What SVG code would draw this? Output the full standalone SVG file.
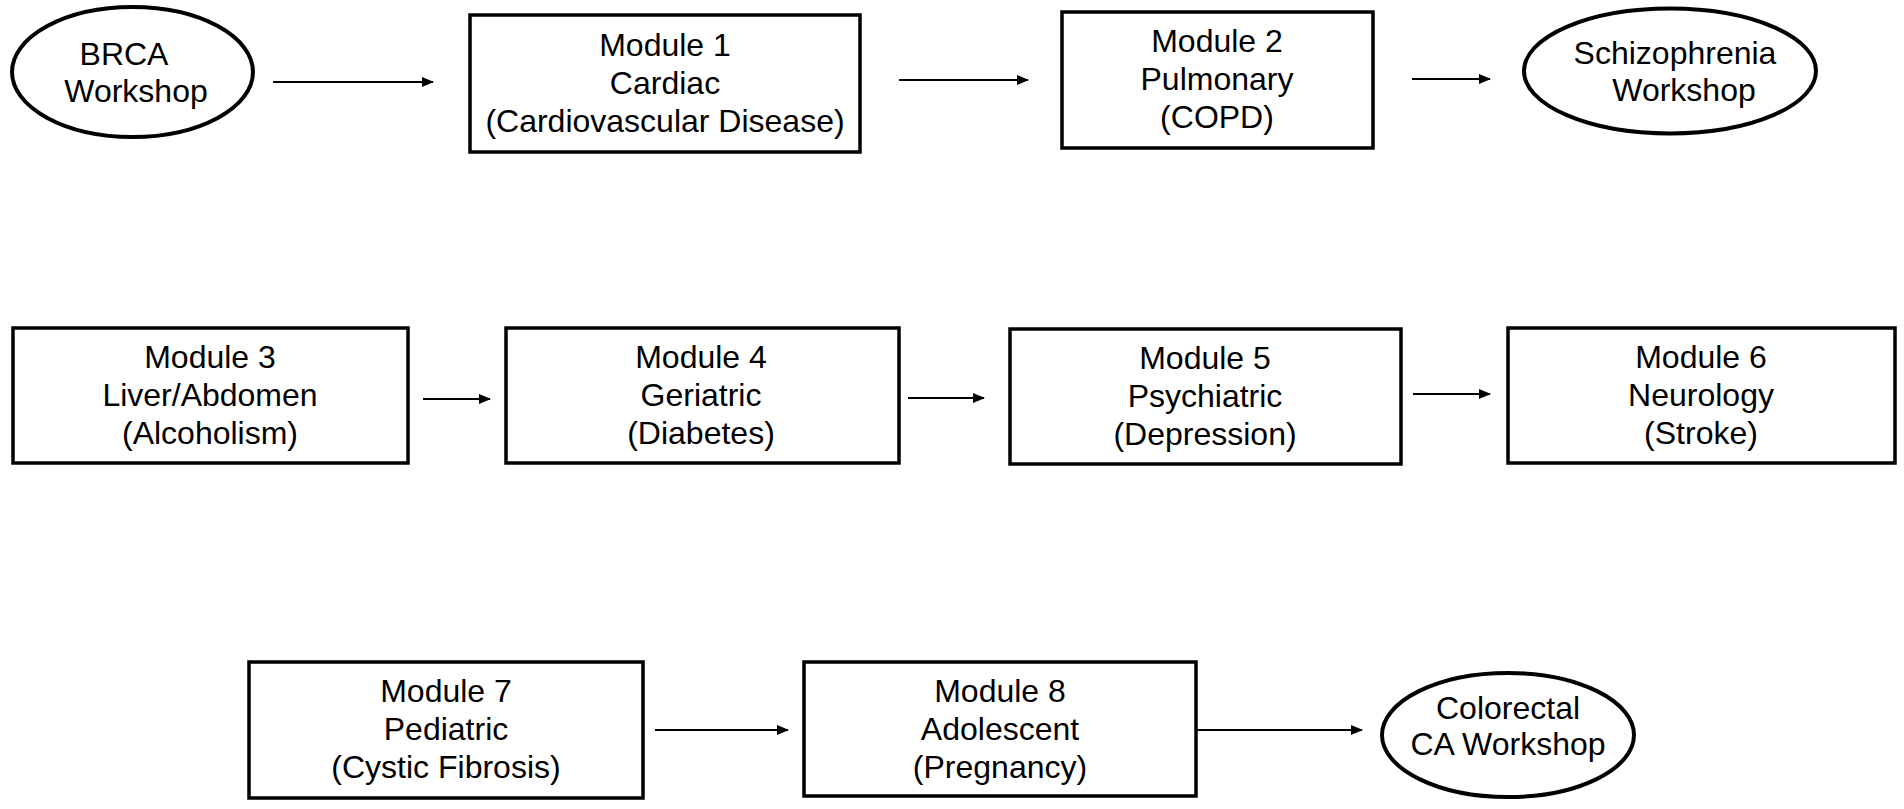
<svg xmlns="http://www.w3.org/2000/svg" width="1904" height="809" viewBox="0 0 1904 809">
<defs>
<marker id="ah" markerWidth="12" markerHeight="12" refX="11" refY="6" orient="auto" markerUnits="userSpaceOnUse">
<path d="M0,1 L12,6 L0,11 z" fill="#000"/>
</marker>
<style>
.box{fill:#fff;stroke:#000;stroke-width:3.5}
.ell{fill:#fff;stroke:#000;stroke-width:4}
.t{font-family:"Liberation Sans",Arial,sans-serif;font-size:32px;fill:#000;text-anchor:middle}
.c{stroke:#000;stroke-width:2.2;fill:none;marker-end:url(#ah)}
</style>
</defs>
<rect width="1904" height="809" fill="#fff"/>
<g id="connectors">
<line class="c" x1="273" y1="82" x2="433" y2="82"/>
<line class="c" x1="899" y1="80" x2="1028" y2="80"/>
<line class="c" x1="1412" y1="79" x2="1490" y2="79"/>
<line class="c" x1="423" y1="399" x2="490" y2="399"/>
<line class="c" x1="908" y1="398" x2="984" y2="398"/>
<line class="c" x1="1413" y1="394" x2="1490" y2="394"/>
<line class="c" x1="655" y1="730" x2="788" y2="730"/>
<line class="c" x1="1196" y1="730" x2="1362" y2="730"/>
</g>
<g id="brca">
<ellipse class="ell" cx="132.5" cy="72" rx="120.5" ry="65"/>
<text class="t" x="124" y="65">BRCA</text>
<text class="t" x="136" y="102">Workshop</text>
</g>
<g id="module1">
<rect class="box" x="470" y="15" width="390" height="137"/>
<text class="t" x="665" y="56">Module 1</text>
<text class="t" x="665" y="94">Cardiac</text>
<text class="t" x="665" y="132">(Cardiovascular Disease)</text>
</g>
<g id="module2">
<rect class="box" x="1062" y="12" width="311" height="136"/>
<text class="t" x="1217" y="52">Module 2</text>
<text class="t" x="1217" y="90">Pulmonary</text>
<text class="t" x="1217" y="128">(COPD)</text>
</g>
<g id="schizophrenia">
<ellipse class="ell" cx="1670" cy="71" rx="146" ry="62.5"/>
<text class="t" x="1675" y="64">Schizophrenia</text>
<text class="t" x="1684" y="101">Workshop</text>
</g>
<g id="module3">
<rect class="box" x="13" y="328" width="395" height="135"/>
<text class="t" x="210" y="368">Module 3</text>
<text class="t" x="210" y="406">Liver/Abdomen</text>
<text class="t" x="210" y="444">(Alcoholism)</text>
</g>
<g id="module4">
<rect class="box" x="506" y="328" width="393" height="135"/>
<text class="t" x="701" y="368">Module 4</text>
<text class="t" x="701" y="406">Geriatric</text>
<text class="t" x="701" y="444">(Diabetes)</text>
</g>
<g id="module5">
<rect class="box" x="1010" y="329" width="391" height="135"/>
<text class="t" x="1205" y="369">Module 5</text>
<text class="t" x="1205" y="407">Psychiatric</text>
<text class="t" x="1205" y="445">(Depression)</text>
</g>
<g id="module6">
<rect class="box" x="1508" y="328" width="387" height="135"/>
<text class="t" x="1701" y="368">Module 6</text>
<text class="t" x="1701" y="406">Neurology</text>
<text class="t" x="1701" y="444">(Stroke)</text>
</g>
<g id="module7">
<rect class="box" x="249" y="662" width="394" height="136"/>
<text class="t" x="446" y="702">Module 7</text>
<text class="t" x="446" y="740">Pediatric</text>
<text class="t" x="446" y="778">(Cystic Fibrosis)</text>
</g>
<g id="module8">
<rect class="box" x="804" y="662" width="392" height="134"/>
<text class="t" x="1000" y="702">Module 8</text>
<text class="t" x="1000" y="740">Adolescent</text>
<text class="t" x="1000" y="778">(Pregnancy)</text>
</g>
<g id="colorectal">
<ellipse class="ell" cx="1508" cy="735" rx="126" ry="62"/>
<text class="t" x="1508" y="719">Colorectal</text>
<text class="t" x="1508" y="755">CA Workshop</text>
</g>
</svg>
